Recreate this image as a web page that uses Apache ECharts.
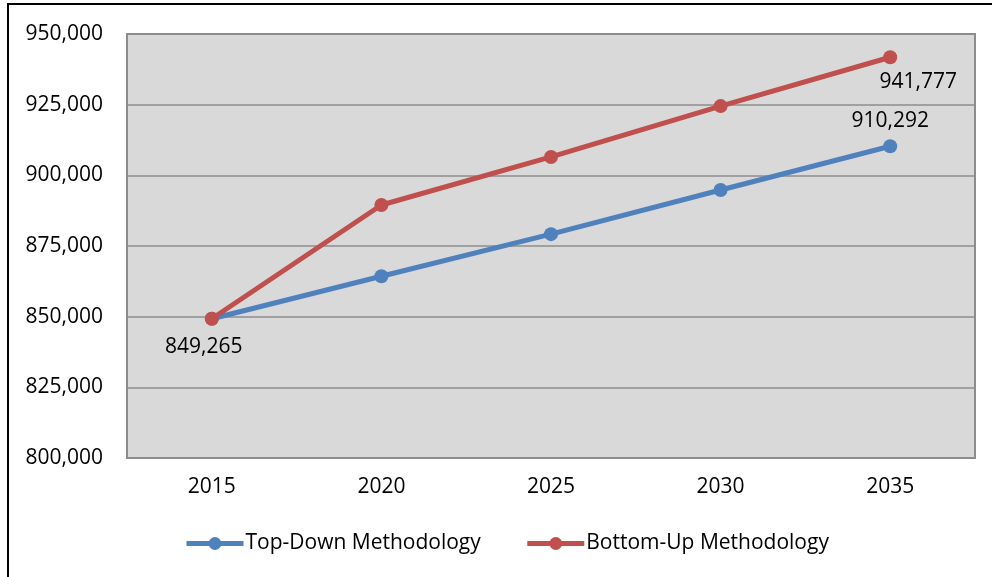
<!DOCTYPE html>
<html>
<head>
<meta charset="utf-8">
<script src="https://cdn.jsdelivr.net/npm/echarts@6/dist/echarts.min.js"></script>
<style>
  html, body { margin: 0; padding: 0; background: #fff; }
  #chart { width: 992px; height: 577px; }
</style>
</head>
<body>
<div id="chart"></div>
<script>
// years on the x axis
var years = ['2015', '2020', '2025', '2030', '2035'];
// series values (ends are labelled)
var topDown = [849265, 864300, 879200, 894800, 910292];
var bottomUp = [849265, 889500, 906500, 924500, 941777];
var seriesNames = ['Top-Down Methodology', 'Bottom-Up Methodology'];

var font = '"Open Sans", "Noto Sans", sans-serif';
var myChart = echarts.init(document.getElementById('chart'));

function fmt(v) {
  return String(v).replace(/\B(?=(\d{3})+(?!\d))/g, ',');
}

myChart.setOption({
  animation: false,
  backgroundColor: '#fff',
  graphic: [
    {
      // outer frame of the chart area
      type: 'rect',
      shape: { x: 8, y: 4, width: 1000, height: 600 },
      style: { fill: 'none', stroke: '#000', lineWidth: 2 },
      silent: true
    }
  ],
  grid: {
    left: 127,
    top: 34,
    right: 17,
    bottom: 119,
    show: true,
    backgroundColor: '#d9d9d9',
    borderColor: '#8c8c8c',
    borderWidth: 2
  },
  legend: {
    bottom: 18,
    left: 179,
    itemWidth: 57,
    itemHeight: 16,
    itemGap: 44,
    lineStyle: { width: 5 },
    textStyle: { fontFamily: font, fontSize: 21, color: '#000', padding: [0, 0, 0, -3] },
    data: seriesNames
  },
  xAxis: {
    type: 'category',
    data: years,
    boundaryGap: true,
    axisLine: { show: false },
    axisTick: { show: false },
    axisLabel: { fontFamily: font, fontSize: 21, color: '#000', margin: 19 }
  },
  yAxis: {
    type: 'value',
    min: 800000,
    max: 950000,
    interval: 25000,
    axisLine: { show: false },
    axisTick: { show: false },
    splitLine: { lineStyle: { color: '#8c8c8c', width: 1.5 } },
    axisLabel: {
      fontFamily: font, fontSize: 21, color: '#000', margin: 24,
      formatter: function (v) { return fmt(v); }
    }
  },
  series: [
    {
      name: seriesNames[0],
      type: 'line',
      data: topDown.map(function (v, i) {
        if (i === 4) {
          return { value: v, label: { show: true, position: 'top', distance: 8 } };
        }
        return v;
      }),
      color: '#4f81bd',
      lineStyle: { width: 5 },
      symbol: 'circle',
      symbolSize: 14,
      label: {
        show: false,
        fontFamily: font, fontSize: 21, color: '#000',
        formatter: function (p) { return fmt(p.value); }
      }
    },
    {
      name: seriesNames[1],
      type: 'line',
      data: bottomUp.map(function (v, i) {
        if (i === 0) {
          return { value: v, label: { show: true, position: 'bottom', distance: 11, offset: [-8, 0] } };
        }
        if (i === 4) {
          return { value: v, label: { show: true, position: 'bottom', distance: 7, offset: [28, 0] } };
        }
        return v;
      }),
      color: '#c0504d',
      lineStyle: { width: 5 },
      symbol: 'circle',
      symbolSize: 14,
      label: {
        show: false,
        fontFamily: font, fontSize: 21, color: '#000',
        formatter: function (p) { return fmt(p.value); }
      }
    }
  ]
});
</script>
</body>
</html>
